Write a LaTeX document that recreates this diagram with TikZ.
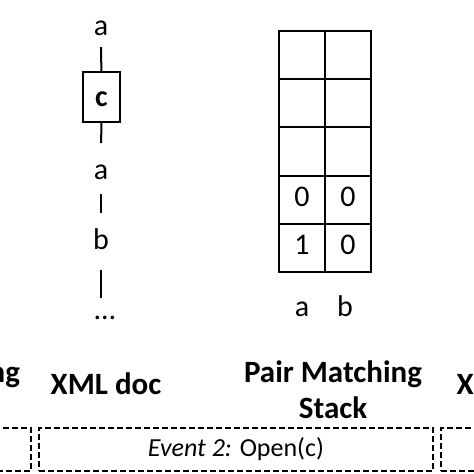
\documentclass[tikz,border=0pt]{standalone}
\usepackage{fontspec}
\setmainfont{Carlito}
\usetikzlibrary{positioning}
\tikzset{
	token/.style = {align=center, inner sep=0pt, outer sep=0pt, text height=21pt, text depth=7pt, font=\fontsize{30}{36}\selectfont},
	elem/.style = {token, draw=black, line width=2pt, text depth=2pt, minimum width=37pt, minimum height=50pt, font=\fontsize{30}{36}\selectfont\bfseries},
	cell/.style = {token, draw=black, line width=2pt, minimum width=46pt, minimum height=48.2pt},
	caption/.style = {align=center, inner sep=0pt, font=\fontsize{31}{36}\selectfont\bfseries},
	event/.style = {draw=black, dashed, dash pattern=on 6pt off 3pt, line width=1.3pt, minimum width=394pt, minimum height=43pt, inner sep=0pt, font=\fontsize{26}{30}\selectfont},
	link/.style = {line width=2pt}
}

\begin{document}
\begin{tikzpicture}[x=1pt, y=-1pt]
	\useasboundingbox (0,0) rectangle (474,474);
	\clip (0,0) rectangle (474,474);
	% xml document
	\node [token] (a1) at (101,28) {a};
	\node [elem] (c) at (101.5,97) {c};
	\node [token] (a2) at (101,172) {a};
	\node [token] (b) at (101,242) {b};
	\node [token] (dots) at (105,312) {\dots};
	\draw [link, shorten <=5pt] (a1) -- (c);
	\draw [link, shorten >=15pt] (c) -- (a2);
	\draw [link, shorten <=8pt, shorten >=15pt] (a2) -- (b);
	\draw [link, shorten <=14pt] (b) -- (b |- dots.north);
	% pair matching stack
	\foreach \r/\va/\vb in {1//,2//,3//,4/0/0,5/1/0} {
		\node [cell] (cell-\r-1) at (302,{55.1+48.2*(\r-1)}) {\va};
		\node [cell] (cell-\r-2) at (348,{55.1+48.2*(\r-1)}) {\vb};
	}
	\node [token, below=23pt of cell-5-1] (col-a) {a};
	\node [token, below=23pt of cell-5-2, xshift=-3pt] (col-b) {b};
	% captions
	\node [caption] (cap-prev) at (-69,390) {Pair Matching\\Stack};
	\node [caption, anchor=base] (cap-doc) at (106,394) {XML doc};
	\node [caption] (cap-stack) at (333,390) {Pair Matching\\Stack};
	\node [caption, anchor=base] (cap-next) at (512,394) {XML doc};
	% events
	\node [event] (ev1) at (-166,449.5) {};
	\node [event] (ev2) at (236,449.5) {\textit{Event 2:} Open(c)};
	\node [event] (ev3) at (638,449.5) {};
\end{tikzpicture}
\end{document}
